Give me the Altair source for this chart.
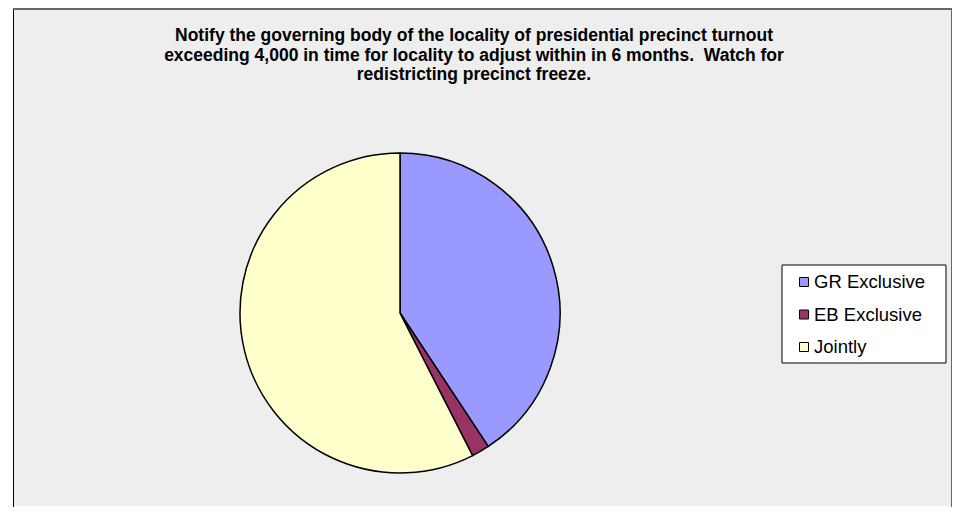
import altair as alt
import pandas as pd

# Data
categories = ["GR Exclusive", "EB Exclusive", "Jointly"]
values = [40.7, 1.8, 57.5]
colors = ["#9999FF", "#993366", "#FFFFCC"]
title_lines = [
    "Notify the governing body of the locality of presidential precinct turnout",
    "exceeding 4,000 in time for locality to adjust within in 6 months.\u00a0 Watch for",
    "redistricting precinct freeze.",
]

df = pd.DataFrame({"category": categories, "value": values, "order": [0, 1, 2]})

color_scale = alt.Scale(domain=categories, range=colors)

pie = alt.Chart(df).mark_arc(stroke="black", strokeWidth=1.5, outerRadius=160).encode(
    theta=alt.Theta("value:Q", stack=True),
    color=alt.Color("category:N", scale=color_scale, legend=None),
    order=alt.Order("order:Q"),
    x=alt.value(387),
    y=alt.value(304),
)

title = alt.Chart(pd.DataFrame({"t": [0]})).mark_text(
    text=title_lines,
    font="Liberation Sans",
    fontSize=17.5,
    fontWeight="bold",
    lineHeight=19.5,
    align="center",
    baseline="top",
    color="black",
).encode(x=alt.value(461), y=alt.value(18))

legend_box = alt.Chart(pd.DataFrame({"t": [0]})).mark_rect(
    fill="white", stroke="black", strokeWidth=1
).encode(x=alt.value(769), x2=alt.value(933), y=alt.value(256), y2=alt.value(354))

legend_y = alt.Y(
    "category:N",
    scale=alt.Scale(type="point", domain=categories, range=[273, 338], padding=0),
    axis=None,
)

legend_sym = alt.Chart(df).mark_square(size=81, stroke="black", strokeWidth=1, opacity=1).encode(
    x=alt.value(791),
    y=legend_y,
    fill=alt.Color("category:N", scale=color_scale, legend=None),
)

legend_txt = alt.Chart(df).mark_text(
    font="Liberation Sans", fontSize=18.5, align="left", baseline="middle", color="black"
).encode(x=alt.value(801), y=legend_y, text="category:N")

one = pd.DataFrame({"t": [0]})
left_rule = alt.Chart(one).mark_rule(color="black", strokeWidth=1).encode(
    x=alt.value(0.5), y=alt.value(0), y2=alt.value(499)
)
top_rule = alt.Chart(one).mark_rule(color="#666666", strokeWidth=2).encode(
    x=alt.value(0), x2=alt.value(940), y=alt.value(0)
)
right_rule = alt.Chart(one).mark_rule(color="#666666", strokeWidth=2).encode(
    x=alt.value(939), y=alt.value(0), y2=alt.value(499)
)

chart = (
    alt.layer(pie, title, legend_box, legend_sym, legend_txt, left_rule, top_rule, right_rule)
    .properties(
        width=944,
        height=499,
        autosize=alt.AutoSizeParams(type="fit", contains="padding"),
        padding={"left": 4, "top": 0, "right": 0, "bottom": 0},
        background="white",
    )
    .configure_view(fill="#EEEEEE", stroke=None)
)

chart.save("out.html", embed_options={"renderer": "svg", "actions": False})
